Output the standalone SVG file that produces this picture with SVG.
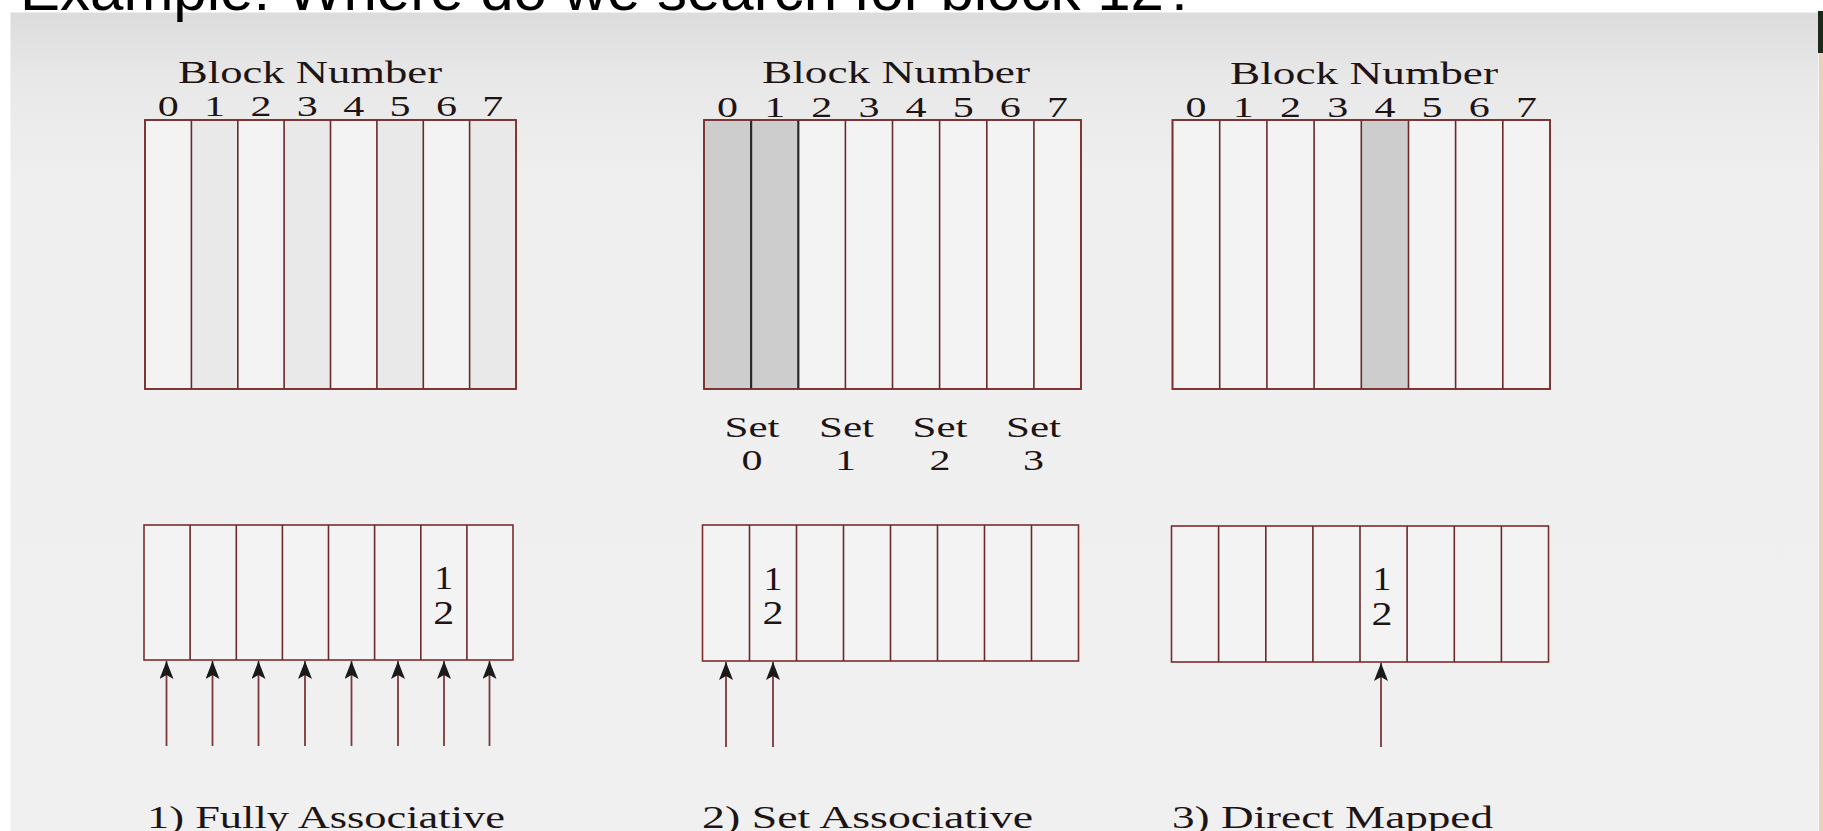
<svg xmlns="http://www.w3.org/2000/svg" width="1823" height="831" viewBox="0 0 1823 831">
<defs>
<linearGradient id="bg" x1="0" y1="0" x2="0" y2="1">
<stop offset="0" stop-color="#dcdcdc"/>
<stop offset="0.08" stop-color="#e8e8e8"/>
<stop offset="0.2" stop-color="#efefef"/>
<stop offset="1" stop-color="#f0f0f0"/>
</linearGradient>
<marker id="ah" markerUnits="userSpaceOnUse" markerWidth="20" markerHeight="14" refX="18" refY="7" orient="auto">
<path d="M0,0 L18,7 L0,14 L4,7 Z" fill="#1a1a1a"/>
</marker>
<style>
.title{font-family:"Liberation Sans",Arial,sans-serif;font-size:60px;fill:#000}
.t{font-family:"Liberation Serif","Times New Roman",serif;fill:#1e1414}
.hd{font-size:31px}
.dg{font-size:30px;text-anchor:middle}
.cd{font-size:33px;text-anchor:middle}
.lb{font-size:31px}
.box{fill:#f3f3f3;stroke:#7a2e2e;stroke-width:1.6}
.ln{stroke:#6a2a2a;stroke-width:1.6}
.sh{fill:#cdcdcd}
.fs{fill:#e9e9e9}
.arr{stroke:#7a3838;stroke-width:1.8;fill:none;marker-end:url(#ah)}
</style>
</defs>
<rect x="0" y="0" width="1823" height="831" fill="#ffffff"/>
<rect x="10.5" y="12.5" width="1808" height="819" fill="url(#bg)"/>
<rect x="1818" y="11" width="5" height="42" fill="#1c2a1c"/>
<rect x="1819" y="53" width="4" height="778" fill="#e8d2b8"/>
<text class="title" x="20" y="10">Example: Where do we search for block 12?</text>

<g id="fully-top">
<rect class="box" x="145" y="120" width="371" height="269"/>
<rect class="fs" x="191.4" y="121" width="46.4" height="267"/>
<rect class="fs" x="284.1" y="121" width="46.4" height="267"/>
<rect class="fs" x="376.9" y="121" width="46.4" height="267"/>
<rect class="fs" x="469.6" y="121" width="45.6" height="267"/>
<path class="ln" d="M191.4,120V389M237.8,120V389M284.1,120V389M330.5,120V389M376.9,120V389M423.3,120V389M469.6,120V389"/>
<rect x="145" y="120" width="371" height="269" fill="none" stroke="#7a2e2e" stroke-width="1.6"/>
<text class="t hd" x="178" y="83" textLength="264" lengthAdjust="spacingAndGlyphs">Block Number</text>
<g class="t dg">
<text x="168.2" y="116" textLength="21" lengthAdjust="spacingAndGlyphs">0</text>
<text x="214.6" y="116" textLength="21" lengthAdjust="spacingAndGlyphs">1</text>
<text x="261" y="116" textLength="21" lengthAdjust="spacingAndGlyphs">2</text>
<text x="307.3" y="116" textLength="21" lengthAdjust="spacingAndGlyphs">3</text>
<text x="353.7" y="116" textLength="21" lengthAdjust="spacingAndGlyphs">4</text>
<text x="400.1" y="116" textLength="21" lengthAdjust="spacingAndGlyphs">5</text>
<text x="446.4" y="116" textLength="21" lengthAdjust="spacingAndGlyphs">6</text>
<text x="492.8" y="116" textLength="21" lengthAdjust="spacingAndGlyphs">7</text>
</g>
</g>

<g id="set-top">
<rect class="box" x="704" y="120" width="377" height="269"/>
<rect class="sh" x="705" y="121" width="46.1" height="267"/>
<rect class="sh" x="751.1" y="121" width="47.1" height="267"/>
<path class="ln" d="M751.1,120V389M845.4,120V389M892.5,120V389M939.6,120V389M986.8,120V389M1033.9,120V389"/>
<path d="M751.1,120V389M798.3,120V389" stroke="#2a2a2a" stroke-width="2.2"/>
<rect x="704" y="120" width="377" height="269" fill="none" stroke="#7a2e2e" stroke-width="1.6"/>
<text class="t hd" x="762" y="83" textLength="268" lengthAdjust="spacingAndGlyphs">Block Number</text>
<g class="t dg">
<text x="727.6" y="116.5" textLength="21" lengthAdjust="spacingAndGlyphs">0</text>
<text x="774.7" y="116.5" textLength="21" lengthAdjust="spacingAndGlyphs">1</text>
<text x="821.8" y="116.5" textLength="21" lengthAdjust="spacingAndGlyphs">2</text>
<text x="869" y="116.5" textLength="21" lengthAdjust="spacingAndGlyphs">3</text>
<text x="916.1" y="116.5" textLength="21" lengthAdjust="spacingAndGlyphs">4</text>
<text x="963.2" y="116.5" textLength="21" lengthAdjust="spacingAndGlyphs">5</text>
<text x="1010.3" y="116.5" textLength="21" lengthAdjust="spacingAndGlyphs">6</text>
<text x="1057.4" y="116.5" textLength="21" lengthAdjust="spacingAndGlyphs">7</text>
</g>
<g class="t dg">
<text x="752" y="437" textLength="55" lengthAdjust="spacingAndGlyphs">Set</text>
<text x="846.5" y="437" textLength="55" lengthAdjust="spacingAndGlyphs">Set</text>
<text x="940" y="437" textLength="55" lengthAdjust="spacingAndGlyphs">Set</text>
<text x="1033.5" y="437" textLength="55" lengthAdjust="spacingAndGlyphs">Set</text>
<text x="752" y="470" textLength="21" lengthAdjust="spacingAndGlyphs">0</text>
<text x="845.5" y="470" textLength="21" lengthAdjust="spacingAndGlyphs">1</text>
<text x="940" y="470" textLength="21" lengthAdjust="spacingAndGlyphs">2</text>
<text x="1033.5" y="470" textLength="21" lengthAdjust="spacingAndGlyphs">3</text>
</g>
</g>

<g id="direct-top">
<rect class="box" x="1172.5" y="120" width="377.5" height="269"/>
<rect class="sh" x="1361.3" y="121" width="47.2" height="267"/>
<path class="ln" d="M1219.7,120V389M1266.9,120V389M1314.1,120V389M1361.3,120V389M1408.5,120V389M1455.6,120V389M1502.8,120V389"/>
<rect x="1172.5" y="120" width="377.5" height="269" fill="none" stroke="#7a2e2e" stroke-width="1.6"/>
<text class="t hd" x="1230" y="84" textLength="268" lengthAdjust="spacingAndGlyphs">Block Number</text>
<g class="t dg">
<text x="1196.1" y="116.5" textLength="21" lengthAdjust="spacingAndGlyphs">0</text>
<text x="1243.3" y="116.5" textLength="21" lengthAdjust="spacingAndGlyphs">1</text>
<text x="1290.5" y="116.5" textLength="21" lengthAdjust="spacingAndGlyphs">2</text>
<text x="1337.7" y="116.5" textLength="21" lengthAdjust="spacingAndGlyphs">3</text>
<text x="1384.9" y="116.5" textLength="21" lengthAdjust="spacingAndGlyphs">4</text>
<text x="1432" y="116.5" textLength="21" lengthAdjust="spacingAndGlyphs">5</text>
<text x="1479.2" y="116.5" textLength="21" lengthAdjust="spacingAndGlyphs">6</text>
<text x="1526.4" y="116.5" textLength="21" lengthAdjust="spacingAndGlyphs">7</text>
</g>
</g>

<g id="fully-bottom">
<rect class="box" x="144" y="525" width="369" height="135"/>
<path class="ln" d="M190.1,525V660M236.3,525V660M282.4,525V660M328.5,525V660M374.6,525V660M420.8,525V660M466.9,525V660"/>
<text class="t cd" x="443.8" y="589" textLength="19" lengthAdjust="spacingAndGlyphs">1</text>
<text class="t cd" x="443.8" y="624" textLength="21" lengthAdjust="spacingAndGlyphs">2</text>
<text class="t lb" x="147" y="828" textLength="358" lengthAdjust="spacingAndGlyphs">1) Fully Associative</text>
</g>

<g id="set-bottom">
<rect class="box" x="702.5" y="525" width="376" height="136"/>
<path class="ln" d="M749.5,525V661M796.5,525V661M843.5,525V661M890.5,525V661M937.5,525V661M984.5,525V661M1031.5,525V661"/>
<text class="t cd" x="773" y="590" textLength="19" lengthAdjust="spacingAndGlyphs">1</text>
<text class="t cd" x="773" y="624" textLength="21" lengthAdjust="spacingAndGlyphs">2</text>
<text class="t lb" x="702" y="828" textLength="331" lengthAdjust="spacingAndGlyphs">2) Set Associative</text>
</g>

<g id="direct-bottom">
<rect class="box" x="1171.5" y="526" width="377" height="136"/>
<path class="ln" d="M1218.6,526V662M1265.8,526V662M1312.9,526V662M1360,526V662M1407.1,526V662M1454.3,526V662M1501.4,526V662"/>
<text class="t cd" x="1382" y="590" textLength="19" lengthAdjust="spacingAndGlyphs">1</text>
<text class="t cd" x="1382" y="625" textLength="21" lengthAdjust="spacingAndGlyphs">2</text>
<text class="t lb" x="1172" y="828" textLength="321" lengthAdjust="spacingAndGlyphs">3) Direct Mapped</text>
</g>

<g id="connectors">
<path class="arr" d="M166.5,746V661"/>
<path class="arr" d="M212.5,746V661"/>
<path class="arr" d="M258.5,746V661"/>
<path class="arr" d="M305,746V661"/>
<path class="arr" d="M351.5,746V661"/>
<path class="arr" d="M398,746V661"/>
<path class="arr" d="M444,746V661"/>
<path class="arr" d="M489.5,746V661"/>
<path class="arr" d="M726,747V662"/>
<path class="arr" d="M773,747V662"/>
<path class="arr" d="M1381,747V663"/>
</g>
</svg>
